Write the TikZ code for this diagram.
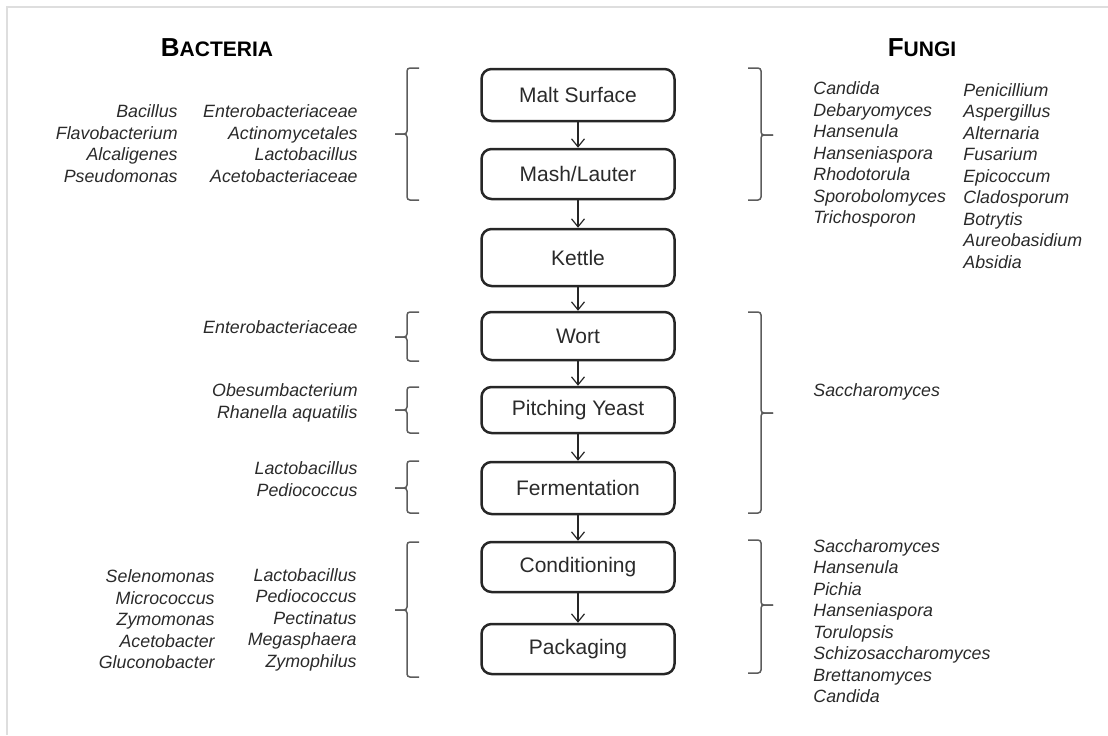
\documentclass[tikz,border=0pt]{standalone}
\usepackage{fontspec}
\setmainfont{Liberation Sans}
\usepackage{tikz}
\usetikzlibrary{arrows.meta}

\definecolor{framegray}{HTML}{DEDEDE}
\definecolor{bracegray}{HTML}{5C5C5C}
\definecolor{inkgray}{HTML}{2A2A2A}

\newcommand{\titlecaps}[2]{{\bfseries\fontsize{13}{15}\selectfont #1}{\bfseries\fontsize{10.5}{12}\selectfont #2}}

\begin{document}
\begin{tikzpicture}[x=0.5pt,y=-0.5pt,
    stage/.style={draw=black!85, line width=1.25pt, rounded corners=5pt,
      minimum width=96.5pt, inner sep=0pt, text=inkgray,
      font=\fontsize{10.5}{12}\selectfont},
    flow/.style={-{Straight Barb[length=4pt,width=6.5pt]}, line width=0.6pt, black!85},
    taxa/.style={inner sep=0pt, text=inkgray, font=\fontsize{8.9}{10.75}\selectfont\itshape},
    brace/.style={draw=bracegray, line width=0.75pt, rounded corners=1.5pt}]
    \useasboundingbox (0,0) rectangle (1108,735);
    \draw[framegray, line width=1pt] (7,735) -- (7,7) -- (1108,7);

    % titles
    \node (bact) at (217,48) {\titlecaps{B}{ACTERIA}};
    \node (fungi) at (922,48) {\titlecaps{F}{UNGI}};

    % process chain
    \node[stage, minimum height=26pt] (malt) at (578,95) {Malt Surface};
    \node[stage, minimum height=25pt] (mash) at (578,174) {Mash/Lauter};
    \node[stage, minimum height=28.5pt] (kettle) at (578,257.5) {Kettle};
    \node[stage, minimum height=24pt] (wort) at (578,336) {Wort};
    \node[stage, minimum height=23pt] (pitch) at (578,410) {Pitching Yeast};
    \node[stage, minimum height=26pt] (ferm) at (578,488) {Fermentation};
    \node[stage, minimum height=25pt] (cond) at (578,567) {Conditioning};
    \node[stage, minimum height=25pt] (pack) at (578,649) {Packaging};

    \draw[flow] (malt) -- (mash);
    \draw[flow] (mash) -- (kettle);
    \draw[flow] (kettle) -- (wort);
    \draw[flow] (wort) -- (pitch);
    \draw[flow] (pitch) -- (ferm);
    \draw[flow] (ferm) -- (cond);
    \draw[flow] (cond) -- (pack);

    % brackets
    \foreach \ya/\yb/\ym in {68/200/134, 312/361/337, 387/433/410, 461/513/488, 542/677/610} {
      \draw[brace] (419,\ya) -| (407,\ym) -- (395,\ym);
      \draw[brace] (395,\ym) -| (407,\yb) -- (419,\yb);
    }
    \foreach \ya/\yb/\ym in {68/200/135, 312/513/413, 540/673/605} {
      \draw[brace] (748,\ya) -| (761,\ym) -- (773,\ym);
      \draw[brace] (773,\ym) -| (761,\yb) -- (748,\yb);
    }

    % bacteria
    \node[taxa, anchor=east, align=right] (maltA) at (178,143.5)
      {Bacillus\\Flavobacterium\\Alcaligenes\\Pseudomonas};
    \node[taxa, anchor=east, align=right] (maltB) at (358,143.5)
      {Enterobacteriaceae\\Actinomycetales\\Lactobacillus\\Acetobacteriaceae};
    \node[taxa, anchor=east] (wortA) at (358,327) {Enterobacteriaceae};
    \node[taxa, anchor=east, align=right] (pitchA) at (358,403)
      {Obesumbacterium\\Rhanella aquatilis};
    \node[taxa, anchor=east, align=right] (fermA) at (358,479)
      {Lactobacillus\\Pediococcus};
    \node[taxa, anchor=east, align=right] (condA) at (215,619.5)
      {Selenomonas\\Micrococcus\\Zymomonas\\Acetobacter\\Gluconobacter};
    \node[taxa, anchor=east, align=right] (condB) at (357,619.5)
      {Lactobacillus\\Pediococcus\\Pectinatus\\Megasphaera\\Zymophilus};

    % fungi
    \node[taxa, anchor=west, align=left] (maltF) at (813,154.5)
      {Candida\\Debaryomyces\\Hansenula\\Hanseniaspora\\Rhodotorula\\Sporobolomyces\\Trichosporon};
    \node[taxa, anchor=west, align=left] (maltG) at (963,176)
      {Penicillium\\Aspergillus\\Alternaria\\Fusarium\\Epicoccum\\Cladosporum\\Botrytis\\Aureobasidium\\Absidia};
    \node[taxa, anchor=west] (wortF) at (813,392) {Saccharomyces};
    \node[taxa, anchor=west, align=left] (condF) at (813,621)
      {Saccharomyces\\Hansenula\\Pichia\\Hanseniaspora\\Torulopsis\\Schizosaccharomyces\\Brettanomyces\\Candida};
\end{tikzpicture}
\end{document}
